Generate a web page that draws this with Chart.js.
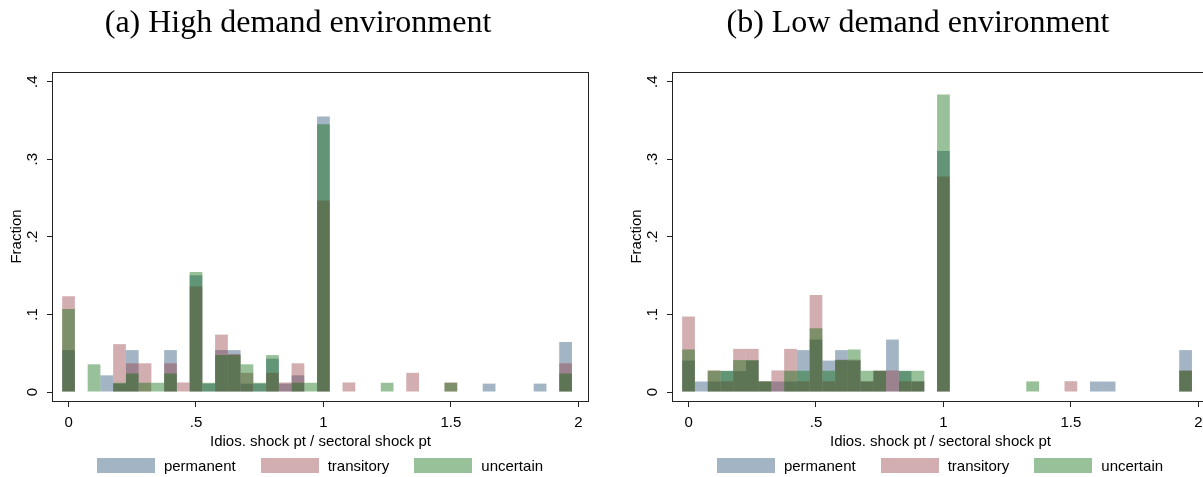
<!DOCTYPE html>
<html>
<head>
<meta charset="utf-8">
<script src="https://cdn.jsdelivr.net/npm/chart.js@4.4.1/dist/chart.umd.min.js"></script>
<style>
  html, body { margin: 0; padding: 0; background: #fff; }
  #page { position: relative; width: 1203px; height: 477px; overflow: hidden; background: #fff; }
  .panel { position: absolute; top: 0; width: 620px; height: 477px; }
  .panel canvas { position: absolute; left: 0; top: 0; }
  .title { position: absolute; left: 0; width: 596px; top: 5px; text-align: center;
           font-family: "Liberation Serif", "Times New Roman", serif; font-size: 32px; line-height: 32px;
           color: #000; white-space: nowrap; }
  .legend { position: absolute; left: 0; width: 640px; top: 458px; display: flex; justify-content: center;
            font-family: "Liberation Sans", Arial, sans-serif; font-size: 15px; line-height: 15px; color: #000; }
  .legend .item { display: flex; align-items: center; }
  .legend .item + .item { margin-left: 25px; }
  .legend .swatch { width: 58px; height: 15px; margin-right: 9px; }
</style>
</head>
<body>
<div id="page">
  <div class="panel" id="panelA" style="left:0px">
    <canvas id="chartA" width="620" height="477"></canvas>
  </div>
  <div class="panel" id="panelB" style="left:620px">
    <canvas id="chartB" width="620" height="477"></canvas>
  </div>
</div>
<script>
// Bin centres of the histogram (width .05)
const binCenters = [0, 0.05, 0.1, 0.15, 0.2, 0.25, 0.3, 0.35, 0.4, 0.45,
                    0.5, 0.55, 0.6, 0.65, 0.7, 0.75, 0.8, 0.85, 0.9, 0.95,
                    1, 1.05, 1.1, 1.15, 1.2, 1.25, 1.3, 1.35, 1.4, 1.45,
                    1.5, 1.55, 1.6, 1.65, 1.7, 1.75, 1.8, 1.85, 1.9, 1.95];

const seriesNames = ["permanent", "transitory", "uncertain"];
// Stata navy%40, cranberry%40, dkgreen%40
const seriesColors = ["rgba(26,71,111,0.4)", "rgba(144,53,59,0.4)", "rgba(0,100,0,0.4)"];

// (a) High demand environment
const highPermanent = [0.054, 0, 0, 0.0215, 0.0108, 0.054, 0, 0, 0.054, 0,
                       0.1505, 0.0108, 0.054, 0.054, 0.0108, 0.0108, 0.043, 0.0108, 0.0215, 0,
                       0.355, 0, 0, 0, 0, 0, 0, 0, 0, 0,
                       0, 0, 0, 0.0108, 0, 0, 0, 0.0108, 0, 0.0645];
const highTransitory = [0.1235, 0, 0, 0, 0.0617, 0.037, 0.037, 0, 0.037, 0.0123,
                        0.136, 0, 0.074, 0.049, 0.0247, 0, 0.0247, 0.0123, 0.037, 0,
                        0.247, 0, 0.0123, 0, 0, 0, 0, 0.0247, 0, 0,
                        0.0123, 0, 0, 0, 0, 0, 0, 0, 0, 0.037];
const highUncertain = [0.107, 0, 0.0357, 0, 0.0119, 0.0238, 0.0119, 0.0119, 0.0238, 0,
                       0.1548, 0.0119, 0.0476, 0.0476, 0.0357, 0.0119, 0.0476, 0, 0.0119, 0.0119,
                       0.345, 0, 0, 0, 0, 0.0119, 0, 0, 0, 0,
                       0.0119, 0, 0, 0, 0, 0, 0, 0, 0, 0.0238];

// (b) Low demand environment
const lowPermanent = [0.0405, 0.0135, 0.0135, 0.027, 0.027, 0.0405, 0.0135, 0.0135, 0.0135, 0.054,
                      0.0676, 0.0405, 0.054, 0.0405, 0.0135, 0.027, 0.0676, 0.027, 0.0135, 0,
                      0.3108, 0, 0, 0, 0, 0, 0, 0, 0, 0,
                      0, 0, 0.0135, 0.0135, 0, 0, 0, 0, 0, 0.054];
const lowTransitory = [0.0972, 0, 0.0278, 0.0139, 0.0556, 0.0556, 0.0139, 0.0278, 0.0556, 0.0139,
                       0.125, 0.0139, 0.0417, 0.0417, 0.0139, 0.0278, 0.0278, 0.0139, 0.0139, 0,
                       0.2778, 0, 0, 0, 0, 0, 0, 0, 0, 0,
                       0.0139, 0, 0, 0, 0, 0, 0, 0, 0, 0.0278];
const lowUncertain = [0.0548, 0, 0.0274, 0.0274, 0.0411, 0.0411, 0.0137, 0, 0.0274, 0.0274,
                      0.0822, 0.0274, 0.0411, 0.0548, 0.0274, 0.0274, 0, 0.0274, 0.0274, 0,
                      0.3836, 0, 0, 0, 0, 0, 0, 0.0137, 0, 0,
                      0, 0, 0, 0, 0, 0, 0, 0, 0, 0.0274];

const xTicks = [0, 0.5, 1, 1.5, 2];
const xTickLabels = ["0", ".5", "1", "1.5", "2"];
const yTicks = [0, 0.1, 0.2, 0.3, 0.4];
const yTickLabels = ["0", ".1", ".2", ".3", ".4"];

const panelTitles = ["(a) High demand environment", "(b) Low demand environment"];
const xTitle = "Idios. shock pt / sectoral shock pt";
const yTitle = "Fraction";

Chart.defaults.font.family = "'Liberation Sans', Arial, sans-serif";
Chart.defaults.font.size = 15;
Chart.defaults.color = "#000";

// Box around the plot region
const frameBox = {
    id: "frameBox",
    afterDatasetsDraw(chart) {
        const a = chart.chartArea;
        const ctx = chart.ctx;
        ctx.save();
        ctx.strokeStyle = "#222";
        ctx.lineWidth = 1;
        ctx.strokeRect(Math.round(a.left) - 0.5, Math.round(a.top) + 0.5,
                       Math.round(a.right - a.left) + 1, Math.round(a.bottom - a.top));
        ctx.restore();
    }
};

// Stata writes the y labels turned 90 degrees
const verticalYLabels = {
    id: "verticalYLabels",
    afterDraw(chart) {
        const yScale = chart.scales.y;
        const ctx = chart.ctx;
        ctx.save();
        ctx.fillStyle = "#000";
        ctx.font = "15px 'Liberation Sans', Arial, sans-serif";
        ctx.textAlign = "center";
        ctx.textBaseline = "middle";
        yTicks.forEach((v, i) => {
            ctx.save();
            ctx.translate(chart.chartArea.left - 20, yScale.getPixelForValue(v));
            ctx.rotate(-Math.PI / 2);
            ctx.fillText(yTickLabels[i], 0, 0);
            ctx.restore();
        });
        ctx.restore();
    }
};

function drawPanel(canvasId, seriesValues) {
    const datasets = seriesValues.map((vals, s) => ({
        label: seriesNames[s],
        data: binCenters.map((x, i) => ({ x: x, y: vals[i] })),
        backgroundColor: seriesColors[s],
        borderWidth: 0,
        order: 2 - s   // uncertain drawn last, on top
    }));

    new Chart(document.getElementById(canvasId), {
        type: "bar",
        data: { datasets: datasets },
        options: {
            responsive: false,
            animation: false,
            devicePixelRatio: 1,
            layout: { padding: { left: 0, top: 72, right: 32, bottom: 23 } },
            datasets: {
                bar: { grouped: false, barPercentage: 1, categoryPercentage: 1, inflateAmount: 0 }
            },
            plugins: { legend: { display: false }, tooltip: { enabled: false } },
            scales: {
                x: {
                    type: "linear",
                    min: -0.061,
                    max: 2.038,
                    offset: false,
                    afterBuildTicks: s => { s.ticks = xTicks.map(v => ({ value: v })); },
                    afterFit: s => { s.height = 53; },
                    ticks: {
                        callback: (v, i) => xTickLabels[i],
                        padding: 7,
                        maxRotation: 0,
                        autoSkip: false
                    },
                    grid: { offset: false, drawOnChartArea: false, drawTicks: true, tickLength: 6, color: "#222" },
                    border: { display: false },
                    title: { display: true, text: xTitle, padding: { top: 0, bottom: 3 } }
                },
                y: {
                    type: "linear",
                    min: -0.0116,
                    max: 0.4125,
                    afterBuildTicks: s => { s.ticks = yTicks.map(v => ({ value: v })); },
                    afterFit: s => { s.width = 53; },
                    ticks: { display: false },
                    grid: { drawOnChartArea: false, drawTicks: true, tickLength: 6, color: "#222" },
                    border: { display: false },
                    title: { display: true, text: yTitle, padding: { top: 8, bottom: 0 } }
                }
            }
        },
        plugins: [frameBox, verticalYLabels]
    });
}

// Title and legend of one panel
function addPanelText(panelId, title) {
    const panel = document.getElementById(panelId);
    const t = document.createElement("div");
    t.className = "title";
    t.textContent = title;
    panel.appendChild(t);

    const legend = document.createElement("div");
    legend.className = "legend";
    seriesNames.forEach((name, s) => {
        const item = document.createElement("div");
        item.className = "item";
        item.innerHTML = `<div class="swatch" style="background:${seriesColors[s]}"></div><span>${name}</span>`;
        legend.appendChild(item);
    });
    panel.appendChild(legend);
}

drawPanel("chartA", [highPermanent, highTransitory, highUncertain]);
drawPanel("chartB", [lowPermanent, lowTransitory, lowUncertain]);
addPanelText("panelA", panelTitles[0]);
addPanelText("panelB", panelTitles[1]);
</script>
</body>
</html>
